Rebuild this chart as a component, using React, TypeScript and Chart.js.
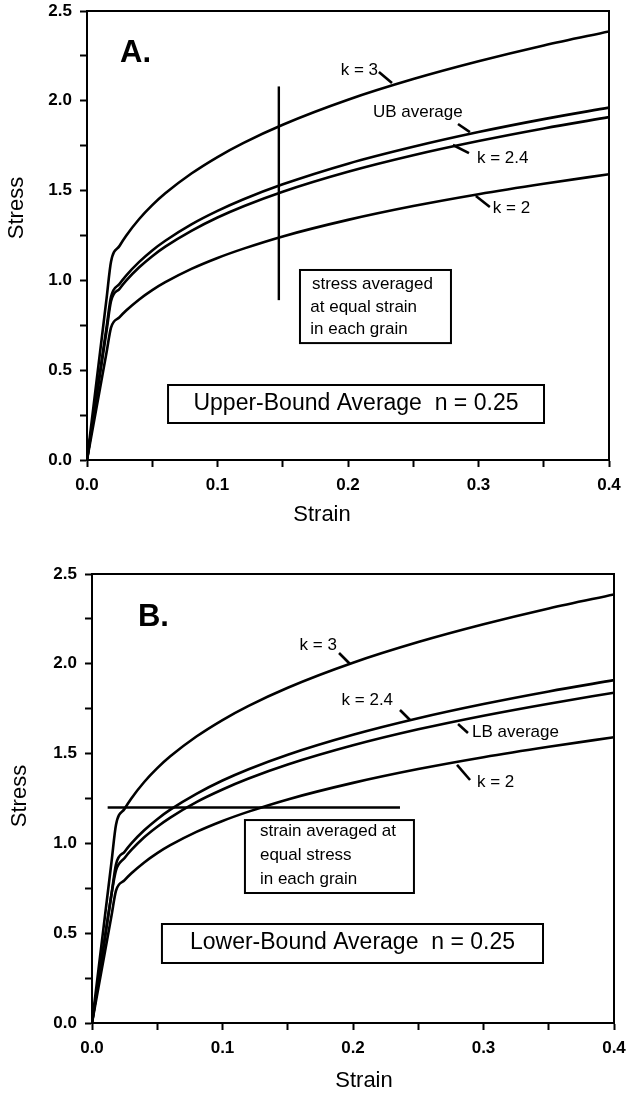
import React, { useEffect, useRef } from 'react';
import { Chart, registerables } from 'chart.js';

Chart.register(...registerables);

const FONT = '"Liberation Sans", Arial, Helvetica, sans-serif';

// ---------- data ----------
const strain = [0, 0.005, 0.01, 0.015, 0.0184, 0.025, 0.03, 0.04, 0.05, 0.06, 0.08, 0.1, 0.12, 0.15, 0.2, 0.25, 0.3, 0.35, 0.4];
const stressK3 = [0, 0.30, 0.60, 0.90, 1.104, 1.193, 1.249, 1.342, 1.419, 1.485, 1.595, 1.687, 1.766, 1.867, 2.006, 2.121, 2.220, 2.308, 2.386];
const stressK24 = [0, 0.24, 0.48, 0.72, 0.884, 0.954, 0.999, 1.073, 1.135, 1.188, 1.276, 1.350, 1.413, 1.494, 1.605, 1.697, 1.776, 1.846, 1.909];
const stressK2 = [0, 0.20, 0.40, 0.60, 0.737, 0.795, 0.832, 0.894, 0.946, 0.990, 1.064, 1.125, 1.177, 1.245, 1.337, 1.414, 1.480, 1.538, 1.591];
const stressUB = [0, 0.247, 0.493, 0.740, 0.908, 0.981, 1.027, 1.103, 1.167, 1.221, 1.312, 1.387, 1.452, 1.535, 1.650, 1.744, 1.826, 1.898, 1.962];
const stressLB = [0, 0.240, 0.480, 0.720, 0.850, 0.919, 0.962, 1.034, 1.093, 1.144, 1.230, 1.300, 1.361, 1.439, 1.546, 1.635, 1.711, 1.778, 1.839];

// marker lines: equal strain (A) and equal stress (B)
const markerStrainA = [0.147, 0.147];
const markerStressA = [0.89, 2.08];
const markerStrainB = [0.012, 0.236];
const markerStressB = [1.2, 1.2];

// axis ticks
const xMin = 0, xMax = 0.4, xStep = 0.05;
const yMin = 0, yMax = 2.5, yStep = 0.25;
const xLabelTicks = [0, 0.1, 0.2, 0.3, 0.4];
const yLabelTicks = [0, 0.5, 1.0, 1.5, 2.0, 2.5];

type Txt = { text: string; x: number; y: number; align: CanvasTextAlign; font: string };
type Seg = { x0: number; y0: number; x1: number; y1: number };

interface Panel {
  top: number; height: number;
  padTop: number; padRight: number; yWidth: number; xHeight: number;
  curves: number[][];
  markerX: number[]; markerY: number[];
  texts: Txt[]; boxes: Seg[]; leaders: Seg[];
  yTitle: { x: number; y: number }; xTitle: { x: number; y: number };
}

const fLabel = `17px ${FONT}`;
const fLetter = `bold 31px ${FONT}`;
const fBig = `23px ${FONT}`;

const panelA: Panel = {
  top: 0, height: 545, padTop: 11, padRight: 17, yWidth: 87, xHeight: 85,
  curves: [stressK3, stressUB, stressK24, stressK2],
  markerX: markerStrainA, markerY: markerStressA,
  texts: [
    { text: 'A.', x: 0.0253, y: 2.261, align: 'left', font: fLetter },
    { text: 'k = 3', x: 0.2230, y: 2.171, align: 'right', font: fLabel },
    { text: 'UB average', x: 0.2191, y: 1.938, align: 'left', font: fLabel },
    { text: 'k = 2.4', x: 0.2988, y: 1.682, align: 'left', font: fLabel },
    { text: 'k = 2', x: 0.3110, y: 1.403, align: 'left', font: fLabel },
    { text: 'stress averaged', x: 0.1724, y: 0.980, align: 'left', font: fLabel },
    { text: 'at equal strain', x: 0.1711, y: 0.852, align: 'left', font: fLabel },
    { text: 'in each grain', x: 0.1711, y: 0.729, align: 'left', font: fLabel },
    { text: 'Upper-Bound Average  n = 0.25', x: 0.2061, y: 0.3118, align: 'center', font: fBig },
  ],
  boxes: [
    { x0: 0.1632, x1: 0.2789, y0: 1.058, y1: 0.651 },
    { x0: 0.0621, x1: 0.3502, y0: 0.4176, y1: 0.206 },
  ],
  leaders: [
    { x0: 0.2237, y0: 2.160, x1: 0.2337, y1: 2.099 },
    { x0: 0.2843, y0: 1.871, x1: 0.2934, y1: 1.826 },
    { x0: 0.2804, y0: 1.754, x1: 0.2927, y1: 1.709 },
    { x0: 0.2980, y0: 1.470, x1: 0.3087, y1: 1.409 },
  ],
  yTitle: { x: 17, y: 208 }, xTitle: { x: 322, y: 515 },
};

const panelB: Panel = {
  top: 545, height: 552, padTop: 29, padRight: 12, yWidth: 92, xHeight: 74,
  curves: [stressK3, stressK24, stressLB, stressK2],
  markerX: markerStrainB, markerY: markerStressB,
  texts: [
    { text: 'B.', x: 0.0352, y: 2.258, align: 'left', font: fLetter },
    { text: 'k = 3', x: 0.1877, y: 2.105, align: 'right', font: fLabel },
    { text: 'k = 2.4', x: 0.2307, y: 1.798, align: 'right', font: fLabel },
    { text: 'LB average', x: 0.2912, y: 1.620, align: 'left', font: fLabel },
    { text: 'k = 2', x: 0.2950, y: 1.342, align: 'left', font: fLabel },
    { text: 'strain averaged at', x: 0.1287, y: 1.069, align: 'left', font: fLabel },
    { text: 'equal stress', x: 0.1287, y: 0.935, align: 'left', font: fLabel },
    { text: 'in each grain', x: 0.1287, y: 0.802, align: 'left', font: fLabel },
    { text: 'Lower-Bound Average  n = 0.25', x: 0.1996, y: 0.4454, align: 'center', font: fBig },
  ],
  boxes: [
    { x0: 0.1172, x1: 0.2467, y0: 1.130, y1: 0.7238 },
    { x0: 0.0536, x1: 0.3456, y0: 0.5512, y1: 0.3341 },
  ],
  leaders: [
    { x0: 0.1893, y0: 2.060, x1: 0.1977, y1: 1.999 },
    { x0: 0.2360, y0: 1.743, x1: 0.2437, y1: 1.687 },
    { x0: 0.2805, y0: 1.665, x1: 0.2881, y1: 1.615 },
    { x0: 0.2797, y0: 1.437, x1: 0.2897, y1: 1.353 },
  ],
  yTitle: { x: 20, y: 251 }, xTitle: { x: 364, y: 536 },
};

const isLabel = (v: number, list: number[]) => list.some((t) => Math.abs(t - v) < 1e-6);

function makeAnnotPlugin(p: Panel) {
  return {
    id: 'annot',
    afterDraw(chart: any) {
      const { ctx, chartArea: a, scales } = chart;
      const X = (v: number) => scales.x.getPixelForValue(v);
      const Y = (v: number) => scales.y.getPixelForValue(v);
      ctx.save();
      ctx.strokeStyle = '#000';
      ctx.fillStyle = '#000';
      ctx.lineWidth = 2;
      ctx.strokeRect(a.left, a.top, a.right - a.left, a.bottom - a.top);
      for (const b of p.boxes) {
        ctx.strokeRect(X(b.x0), Y(b.y0), X(b.x1) - X(b.x0), Y(b.y1) - Y(b.y0));
      }
      ctx.lineWidth = 2.6;
      for (const l of p.leaders) {
        ctx.beginPath();
        ctx.moveTo(X(l.x0), Y(l.y0));
        ctx.lineTo(X(l.x1), Y(l.y1));
        ctx.stroke();
      }
      ctx.textBaseline = 'middle';
      for (const t of p.texts) {
        ctx.font = t.font;
        ctx.textAlign = t.align;
        ctx.fillText(t.text, X(t.x), Y(t.y));
      }
      ctx.font = `22px ${FONT}`;
      ctx.textAlign = 'center';
      ctx.fillText('Strain', p.xTitle.x, p.xTitle.y);
      ctx.translate(p.yTitle.x, p.yTitle.y);
      ctx.rotate(-Math.PI / 2);
      ctx.fillText('Stress', 0, 0);
      ctx.restore();
    },
  };
}

function buildConfig(p: Panel): any {
  const curveSets = p.curves.map((arr) => ({
    data: strain.map((x, i) => ({ x, y: arr[i] })),
    borderColor: '#000',
    borderWidth: 2.6,
    pointRadius: 0,
    fill: false,
    cubicInterpolationMode: 'monotone',
  }));
  const markerSet = {
    data: p.markerX.map((x, i) => ({ x, y: p.markerY[i] })),
    borderColor: '#000',
    borderWidth: 2.4,
    pointRadius: 0,
    fill: false,
    tension: 0,
  };
  const tickFont = { family: FONT, size: 17, weight: 'bold' as const };
  return {
    type: 'line',
    data: { datasets: [...curveSets, markerSet] },
    options: {
      responsive: false,
      animation: false,
      devicePixelRatio: 1,
      layout: { padding: { top: p.padTop, right: p.padRight, bottom: 0, left: 0 } },
      plugins: { legend: { display: false }, tooltip: { enabled: false } },
      scales: {
        x: {
          type: 'linear', min: xMin, max: xMax,
          ticks: {
            stepSize: xStep, autoSkip: false, maxRotation: 0, color: '#000', font: tickFont, padding: 8,
            callback: (v: number) => (isLabel(v, xLabelTicks) ? v.toFixed(1) : ''),
          },
          grid: { drawOnChartArea: false, drawTicks: true, tickLength: 7, tickColor: '#000', tickWidth: 2 },
          border: { display: true, color: '#000', width: 2 },
          afterFit: (s: any) => { s.height = p.xHeight; s.paddingLeft = 0; s.paddingRight = 0; },
        },
        y: {
          type: 'linear', min: yMin, max: yMax,
          ticks: {
            stepSize: yStep, autoSkip: false, color: '#000', font: tickFont, padding: 8,
            callback: (v: number) => (isLabel(v, yLabelTicks) ? v.toFixed(1) : ''),
          },
          grid: { drawOnChartArea: false, drawTicks: true, tickLength: 7, tickColor: '#000', tickWidth: 2 },
          border: { display: true, color: '#000', width: 2 },
          afterFit: (s: any) => { s.width = p.yWidth; s.paddingTop = 0; s.paddingBottom = 0; },
        },
      },
    },
    plugins: [makeAnnotPlugin(p)],
  };
}

function PanelChart({ panel }: { panel: Panel }) {
  const ref = useRef<HTMLCanvasElement>(null);
  useEffect(() => {
    if (!ref.current) return;
    const chart = new Chart(ref.current, buildConfig(panel));
    return () => chart.destroy();
  }, [panel]);
  return (
    <canvas
      ref={ref}
      width={626}
      height={panel.height}
      style={{ position: 'absolute', left: 0, top: panel.top, width: 626, height: panel.height, display: 'block' }}
    />
  );
}

export default function App() {
  return (
    <div style={{ position: 'absolute', left: 0, top: 0, width: 626, height: 1097, background: '#fff', overflow: 'hidden' }}>
      <PanelChart panel={panelA} />
      <PanelChart panel={panelB} />
    </div>
  );
}
